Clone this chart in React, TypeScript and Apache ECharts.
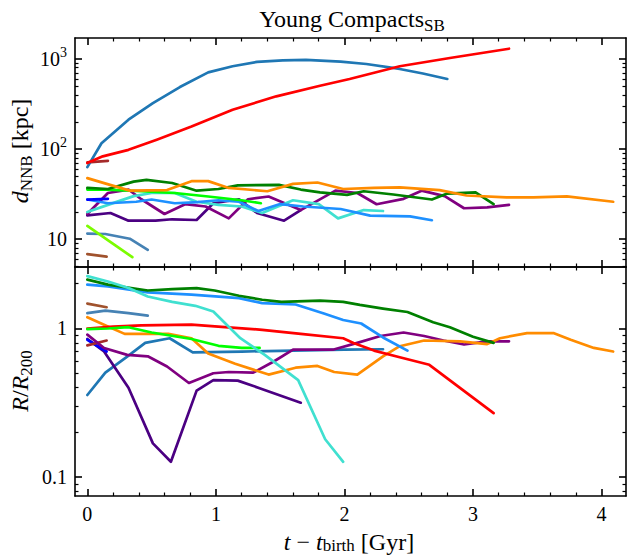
import React, { useEffect, useRef } from "react";
import * as echarts from "echarts";

// ---------- tick values & labels ----------
const xMajorTicks = [0, 1, 2, 3, 4];
const xTickLabels = ["0", "1", "2", "3", "4"];
const xMinorTicks = [0.2, 0.4, 0.6, 0.8, 1.2, 1.4, 1.6, 1.8, 2.2, 2.4, 2.6, 2.8, 3.2, 3.4, 3.6, 3.8];
const dMajorTicks = [10, 100, 1000];
const dTickLabels = ["10", "10{sup|2}", "10{sup|3}"];
const dMinorTicks = [5, 6, 7, 8, 9, 20, 30, 40, 50, 60, 70, 80, 90, 200, 300, 400, 500, 600, 700, 800, 900];
const rMajorTicks = [0.1, 1];
const rTickLabels = ["0.1", "1"];
const rMinorTicks = [0.08, 0.09, 0.2, 0.3, 0.4, 0.5, 0.6, 0.7, 0.8, 0.9, 2];

// axis limits
const X_MIN = -0.096;
const X_MAX = 4.19;
const D_MIN = 4.9;
const D_MAX = 1710;
const R_MIN = 0.0748;
const R_MAX = 2.59;

// ---------- top panel: d_NNB [kpc] ----------
const dTabBlue = [[0, 63], [0.11, 116], [0.32, 212], [0.51, 324], [0.72, 488], [0.94, 710], [1.13, 830], [1.32, 930], [1.52, 965], [1.7, 975], [1.97, 935], [2.17, 880], [2.43, 775], [2.61, 690], [2.8, 600]];
const dRed = [[0, 70], [0.12, 83], [0.32, 98], [0.54, 127], [0.81, 178], [1.13, 273], [1.47, 385], [1.81, 505], [2.04, 600], [2.43, 830], [2.82, 1025], [3.28, 1300]];
const dBrown = [[0, 71], [0.16, 74]];
const dOrange = [[0, 47.5], [0.15, 41], [0.33, 34.5], [0.62, 35], [0.81, 44], [0.94, 44], [1.1, 37], [1.4, 34], [1.6, 41], [1.79, 42.5], [1.99, 36], [2.23, 37], [2.43, 37.5], [2.74, 35], [2.95, 30.5], [3.26, 29], [3.47, 29], [3.73, 29.8], [4.09, 26]];
const dGreen = [[0, 37], [0.16, 36], [0.36, 43.5], [0.46, 45.5], [0.66, 42], [0.85, 34.5], [1.02, 36], [1.17, 39.5], [1.49, 40], [1.66, 35.5], [1.81, 33], [2.02, 31], [2.15, 34], [2.38, 31.3], [2.68, 27.5], [2.8, 32], [3.02, 33], [3.16, 24.5]];
const dLime = [[0, 35.5], [0.15, 35.5], [0.42, 34], [0.68, 32.5], [0.94, 29.7], [1.2, 27], [1.35, 25]];
const dBlue = [[0, 27.5], [0.16, 28]];
const dDodger = [[0, 27.5], [0.16, 25], [0.38, 26], [0.5, 27.5], [0.68, 25], [0.86, 25.8], [1.02, 27], [1.18, 26], [1.33, 20.5], [1.5, 24.5], [1.68, 23], [1.97, 21.6], [2.2, 18.2], [2.51, 17.9], [2.68, 16.2]];
const dTurq = [[0, 20], [0.16, 24], [0.36, 30], [0.5, 32.5], [0.68, 32.5], [0.85, 26], [1.02, 24], [1.2, 23], [1.36, 19.5], [1.6, 27], [1.8, 24.5], [1.95, 17], [2.15, 21], [2.3, 20.5]];
const dPurple = [[0, 19], [0.16, 32.5], [0.32, 35.5], [0.42, 27.7], [0.6, 19], [0.76, 24.4], [0.92, 23], [1.1, 17], [1.25, 27.7], [1.41, 29.7], [1.66, 21], [1.93, 34.5], [2.1, 32.5], [2.25, 24.4], [2.46, 28], [2.6, 34.5], [2.78, 30], [2.93, 22], [3.11, 22.5], [3.28, 24]];
const dIndigo = [[0, 18.3], [0.18, 19.5], [0.32, 16], [0.53, 16], [0.66, 16.6], [0.85, 16.3], [0.98, 25], [1.18, 27.7], [1.32, 19.5], [1.53, 16], [1.66, 21]];
const dLawn = [[0, 14], [0.17, 9.5], [0.35, 6.3]];
const dSteel = [[0, 11.5], [0.14, 11.4], [0.33, 10.1], [0.47, 7.6]];
const dSienna = [[0, 6.8], [0.15, 6.4]];

// ---------- bottom panel: R / R200 ----------
const rTabBlue = [[0, 0.357], [0.14, 0.505], [0.31, 0.647], [0.45, 0.8], [0.64, 0.86], [0.82, 0.69], [1.2, 0.7], [1.6, 0.71], [2.0, 0.72], [2.3, 0.725]];
const rIndigo = [[0, 0.85], [0.13, 0.7], [0.32, 0.4], [0.51, 0.169], [0.65, 0.127], [0.85, 0.382], [0.98, 0.45], [1.17, 0.446], [1.34, 0.397], [1.66, 0.317]];
const rBlue = [[0, 0.84], [0.15, 0.7]];
const rBrown = [[0, 0.77], [0.15, 0.83]];
const rPurple = [[0, 0.91], [0.13, 0.74], [0.31, 0.665], [0.47, 0.65], [0.62, 0.555], [0.79, 0.43], [0.98, 0.5], [1.1, 0.51], [1.29, 0.505], [1.45, 0.6], [1.6, 0.72], [1.91, 0.72], [2.1, 0.8], [2.28, 0.89], [2.46, 0.94], [2.62, 0.89], [2.77, 0.83], [2.93, 0.78], [3.11, 0.82], [3.28, 0.82]];
const rOrange = [[0, 1.19], [0.16, 1.03], [0.29, 0.92], [0.63, 0.92], [0.81, 0.86], [0.94, 0.68], [1.15, 0.58], [1.41, 0.49], [1.62, 0.545], [1.79, 0.56], [1.92, 0.51], [2.1, 0.49], [2.3, 0.65], [2.43, 0.76], [2.62, 0.83], [2.9, 0.82], [3.11, 0.785], [3.21, 0.86], [3.42, 0.93], [3.63, 0.93], [3.76, 0.84], [3.94, 0.74], [4.09, 0.7]];
const rRed = [[0, 1.0], [0.2, 1.03], [0.42, 1.05], [0.81, 1.06], [1.07, 1.02], [1.36, 0.98], [1.66, 0.92], [1.99, 0.86], [2.07, 0.8], [2.23, 0.71], [2.43, 0.64], [2.66, 0.57], [3.16, 0.27]];
const rLime = [[0, 0.99], [0.16, 1.0], [0.32, 1.02], [0.5, 0.94], [0.81, 0.85], [1.02, 0.765], [1.2, 0.74], [1.34, 0.74]];
const rSteel = [[0, 1.27], [0.14, 1.32], [0.32, 1.27], [0.47, 1.22]];
const rSienna = [[0, 1.47], [0.15, 1.39]];
const rDodger = [[0, 1.97], [0.16, 1.92], [0.47, 1.75], [0.81, 1.69], [1.18, 1.6], [1.36, 1.48], [1.62, 1.45], [1.84, 1.26], [1.99, 1.14], [2.13, 1.08], [2.3, 0.87], [2.49, 0.71]];
const rGreen = [[0, 2.13], [0.16, 1.97], [0.47, 1.8], [0.66, 1.84], [0.85, 1.87], [0.99, 1.8], [1.18, 1.66], [1.36, 1.56], [1.51, 1.51], [1.81, 1.54], [1.99, 1.51], [2.12, 1.44], [2.3, 1.36], [2.49, 1.29], [2.69, 1.1], [2.82, 1.02], [3.0, 0.88], [3.16, 0.8]];
const rTurq = [[0, 2.25], [0.16, 2.07], [0.32, 1.87], [0.47, 1.64], [0.66, 1.51], [0.84, 1.42], [0.98, 1.3], [1.19, 0.86], [1.38, 0.665], [1.64, 0.45], [1.85, 0.18], [1.99, 0.127]];

const C = {
  tabBlue: "#1f77b4",
  red: "#ff0000",
  brown: "#a52a2a",
  orange: "#ff8c00",
  green: "#008000",
  lime: "#00ff00",
  blue: "#0000ff",
  dodger: "#1e90ff",
  turq: "#40e0d0",
  purple: "#800080",
  indigo: "#4b0082",
  lawn: "#7cfc00",
  steel: "#4682b4",
  sienna: "#a0522d",
};

const topSeries: [number[][], string][] = [
  [dSienna, C.sienna],
  [dSteel, C.steel],
  [dLawn, C.lawn],
  [dIndigo, C.indigo],
  [dPurple, C.purple],
  [dTurq, C.turq],
  [dDodger, C.dodger],
  [dBlue, C.blue],
  [dLime, C.lime],
  [dGreen, C.green],
  [dOrange, C.orange],
  [dBrown, C.brown],
  [dTabBlue, C.tabBlue],
  [dRed, C.red],
];

const bottomSeries: [number[][], string][] = [
  [rTabBlue, C.tabBlue],
  [rIndigo, C.indigo],
  [rBlue, C.blue],
  [rBrown, C.brown],
  [rPurple, C.purple],
  [rOrange, C.orange],
  [rRed, C.red],
  [rLime, C.lime],
  [rSteel, C.steel],
  [rSienna, C.sienna],
  [rDodger, C.dodger],
  [rGreen, C.green],
  [rTurq, C.turq],
];

const FONT = "Liberation Serif";
const BLACK = "#000000";

function labelFor(ticks: number[], labels: string[]) {
  return (v: number) => {
    for (let i = 0; i < ticks.length; i++) {
      if (Math.abs(ticks[i] - v) <= Math.abs(ticks[i]) * 1e-6) return labels[i];
    }
    return "";
  };
}

function makeX(grid: number, pos: string, ticks: number[], len: number, w: number, line: boolean, labels?: { values: number[]; text: string[] }) {
  return {
    type: "value",
    gridIndex: grid,
    position: pos,
    min: X_MIN,
    max: X_MAX,
    axisLine: { show: line, onZero: false, lineStyle: { color: BLACK, width: 1.6 } },
    axisTick: { show: true, inside: true, length: len, customValues: ticks, lineStyle: { color: BLACK, width: w } },
    axisLabel: labels
      ? {
          show: true,
          customValues: labels.values,
          formatter: labelFor(labels.values, labels.text),
          fontFamily: FONT,
          fontSize: 20,
          color: BLACK,
          margin: 8,
        }
      : { show: false },
    splitLine: { show: false },
    minorTick: { show: false },
    minorSplitLine: { show: false },
  };
}

function makeY(grid: number, pos: string, min: number, max: number, ticks: number[], len: number, w: number, line: boolean, labels?: { values: number[]; text: string[] }) {
  return {
    type: "log",
    logBase: 10,
    gridIndex: grid,
    position: pos,
    min,
    max,
    axisLine: { show: line, onZero: false, lineStyle: { color: BLACK, width: 1.6 } },
    axisTick: { show: true, inside: true, length: len, customValues: ticks, lineStyle: { color: BLACK, width: w } },
    axisLabel: labels
      ? {
          show: true,
          customValues: labels.values,
          formatter: labelFor(labels.values, labels.text),
          fontFamily: FONT,
          fontSize: 20,
          lineHeight: 27,
          color: BLACK,
          margin: 8,
          rich: {
            sup: { fontFamily: FONT, fontSize: 14, lineHeight: 14, verticalAlign: "top", color: BLACK },
          },
        }
      : { show: false },
    splitLine: { show: false },
    minorTick: { show: false },
    minorSplitLine: { show: false },
  };
}

export default function App() {
  const ref = useRef<HTMLDivElement>(null);

  useEffect(() => {
    if (!ref.current) return;
    const chart = echarts.init(ref.current, null, { renderer: "svg" });

    const G = { left: 75, width: 551, height: 229, containLabel: false, outerBoundsMode: "none" };
    const MAJ = 7;
    const MIN = 3.5;

    const series: any[] = [];
    topSeries.forEach(([data, color]) => {
      series.push({
        type: "line",
        xAxisIndex: 0,
        yAxisIndex: 0,
        data,
        showSymbol: false,
        symbol: "none",
        smooth: false,
        lineStyle: { color, width: 2.7, cap: "round", join: "round" },
        silent: true,
      });
    });
    bottomSeries.forEach(([data, color]) => {
      series.push({
        type: "line",
        xAxisIndex: 2,
        yAxisIndex: 2,
        data,
        showSymbol: false,
        symbol: "none",
        smooth: false,
        lineStyle: { color, width: 2.7, cap: "round", join: "round" },
        silent: true,
      });
    });

    const mathRich = (size: number, lh: number, subLh: number) => ({
      i: { fontFamily: FONT, fontSize: size, fontStyle: "italic", lineHeight: lh, verticalAlign: "middle", fill: BLACK },
      n: { fontFamily: FONT, fontSize: size, lineHeight: lh, verticalAlign: "middle", fill: BLACK },
      sub: { fontFamily: FONT, fontSize: Math.round(size * 0.7), lineHeight: subLh, verticalAlign: "bottom", fill: BLACK },
    });

    const option: any = {
      animation: false,
      backgroundColor: "#ffffff",
      textStyle: { fontFamily: FONT, color: BLACK },
      grid: [
        { ...G, top: 38 },
        { ...G, top: 267 },
        { ...G, top: 38 },
        { ...G, top: 267 },
      ],
      xAxis: [
        makeX(0, "bottom", xMajorTicks, MAJ, 1.6, true),
        makeX(0, "top", xMajorTicks, MAJ, 1.6, true),
        makeX(1, "bottom", xMajorTicks, MAJ, 1.6, true, { values: xMajorTicks, text: xTickLabels }),
        makeX(1, "top", xMajorTicks, MAJ, 1.6, true),
        makeX(2, "bottom", xMinorTicks, MIN, 1.2, false),
        makeX(2, "top", xMinorTicks, MIN, 1.2, false),
        makeX(3, "bottom", xMinorTicks, MIN, 1.2, false),
        makeX(3, "top", xMinorTicks, MIN, 1.2, false),
      ],
      yAxis: [
        makeY(0, "left", D_MIN, D_MAX, dMajorTicks, MAJ, 1.6, true, { values: dMajorTicks, text: dTickLabels }),
        makeY(0, "right", D_MIN, D_MAX, dMajorTicks, MAJ, 1.6, true),
        makeY(1, "left", R_MIN, R_MAX, rMajorTicks, MAJ, 1.6, true, { values: rMajorTicks, text: rTickLabels }),
        makeY(1, "right", R_MIN, R_MAX, rMajorTicks, MAJ, 1.6, true),
        makeY(2, "left", D_MIN, D_MAX, dMinorTicks, MIN, 1.2, false),
        makeY(2, "right", D_MIN, D_MAX, dMinorTicks, MIN, 1.2, false),
        makeY(3, "left", R_MIN, R_MAX, rMinorTicks, MIN, 1.2, false),
        makeY(3, "right", R_MIN, R_MAX, rMinorTicks, MIN, 1.2, false),
      ],
      series,
      graphic: [
        {
          type: "text",
          x: 352,
          y: 19,
          style: {
            text: "{n|Young Compacts}{sub|SB}",
            fontFamily: FONT,
            fontSize: 24,
            lineHeight: 30,
            align: "center",
            verticalAlign: "middle",
            fill: BLACK,
            rich: { ...mathRich(24, 30, 17), sub: { fontFamily: FONT, fontSize: 17, lineHeight: 17, verticalAlign: "bottom", fill: BLACK } },
          },
        },
        {
          type: "text",
          x: 20,
          y: 151,
          rotation: Math.PI / 2,
          style: {
            text: "{i|d}{sub|NNB}{n| [kpc]}",
            fontFamily: FONT,
            fontSize: 24,
            lineHeight: 30,
            align: "center",
            verticalAlign: "middle",
            fill: BLACK,
            rich: mathRich(24, 30, 17),
          },
        },
        {
          type: "text",
          x: 20,
          y: 381,
          rotation: Math.PI / 2,
          style: {
            text: "{i|R}{n|/}{i|R}{sub|200}",
            fontFamily: FONT,
            fontSize: 24,
            lineHeight: 30,
            align: "center",
            verticalAlign: "middle",
            fill: BLACK,
            rich: mathRich(24, 30, 17),
          },
        },
        {
          type: "text",
          x: 349,
          y: 542,
          style: {
            text: "{i|t}{n| \u2212 }{i|t}{sub|birth}{n| [Gyr]}",
            fontFamily: FONT,
            fontSize: 24,
            lineHeight: 24,
            align: "center",
            verticalAlign: "middle",
            fill: BLACK,
            rich: mathRich(24, 24, 11),
          },
        },
      ],
    };

    chart.setOption(option);
    return () => {
      chart.dispose();
    };
  }, []);

  return (
    <div
      ref={ref}
      style={{ position: "fixed", left: 0, top: 0, width: 629, height: 557, background: "#ffffff" }}
    />
  );
}
